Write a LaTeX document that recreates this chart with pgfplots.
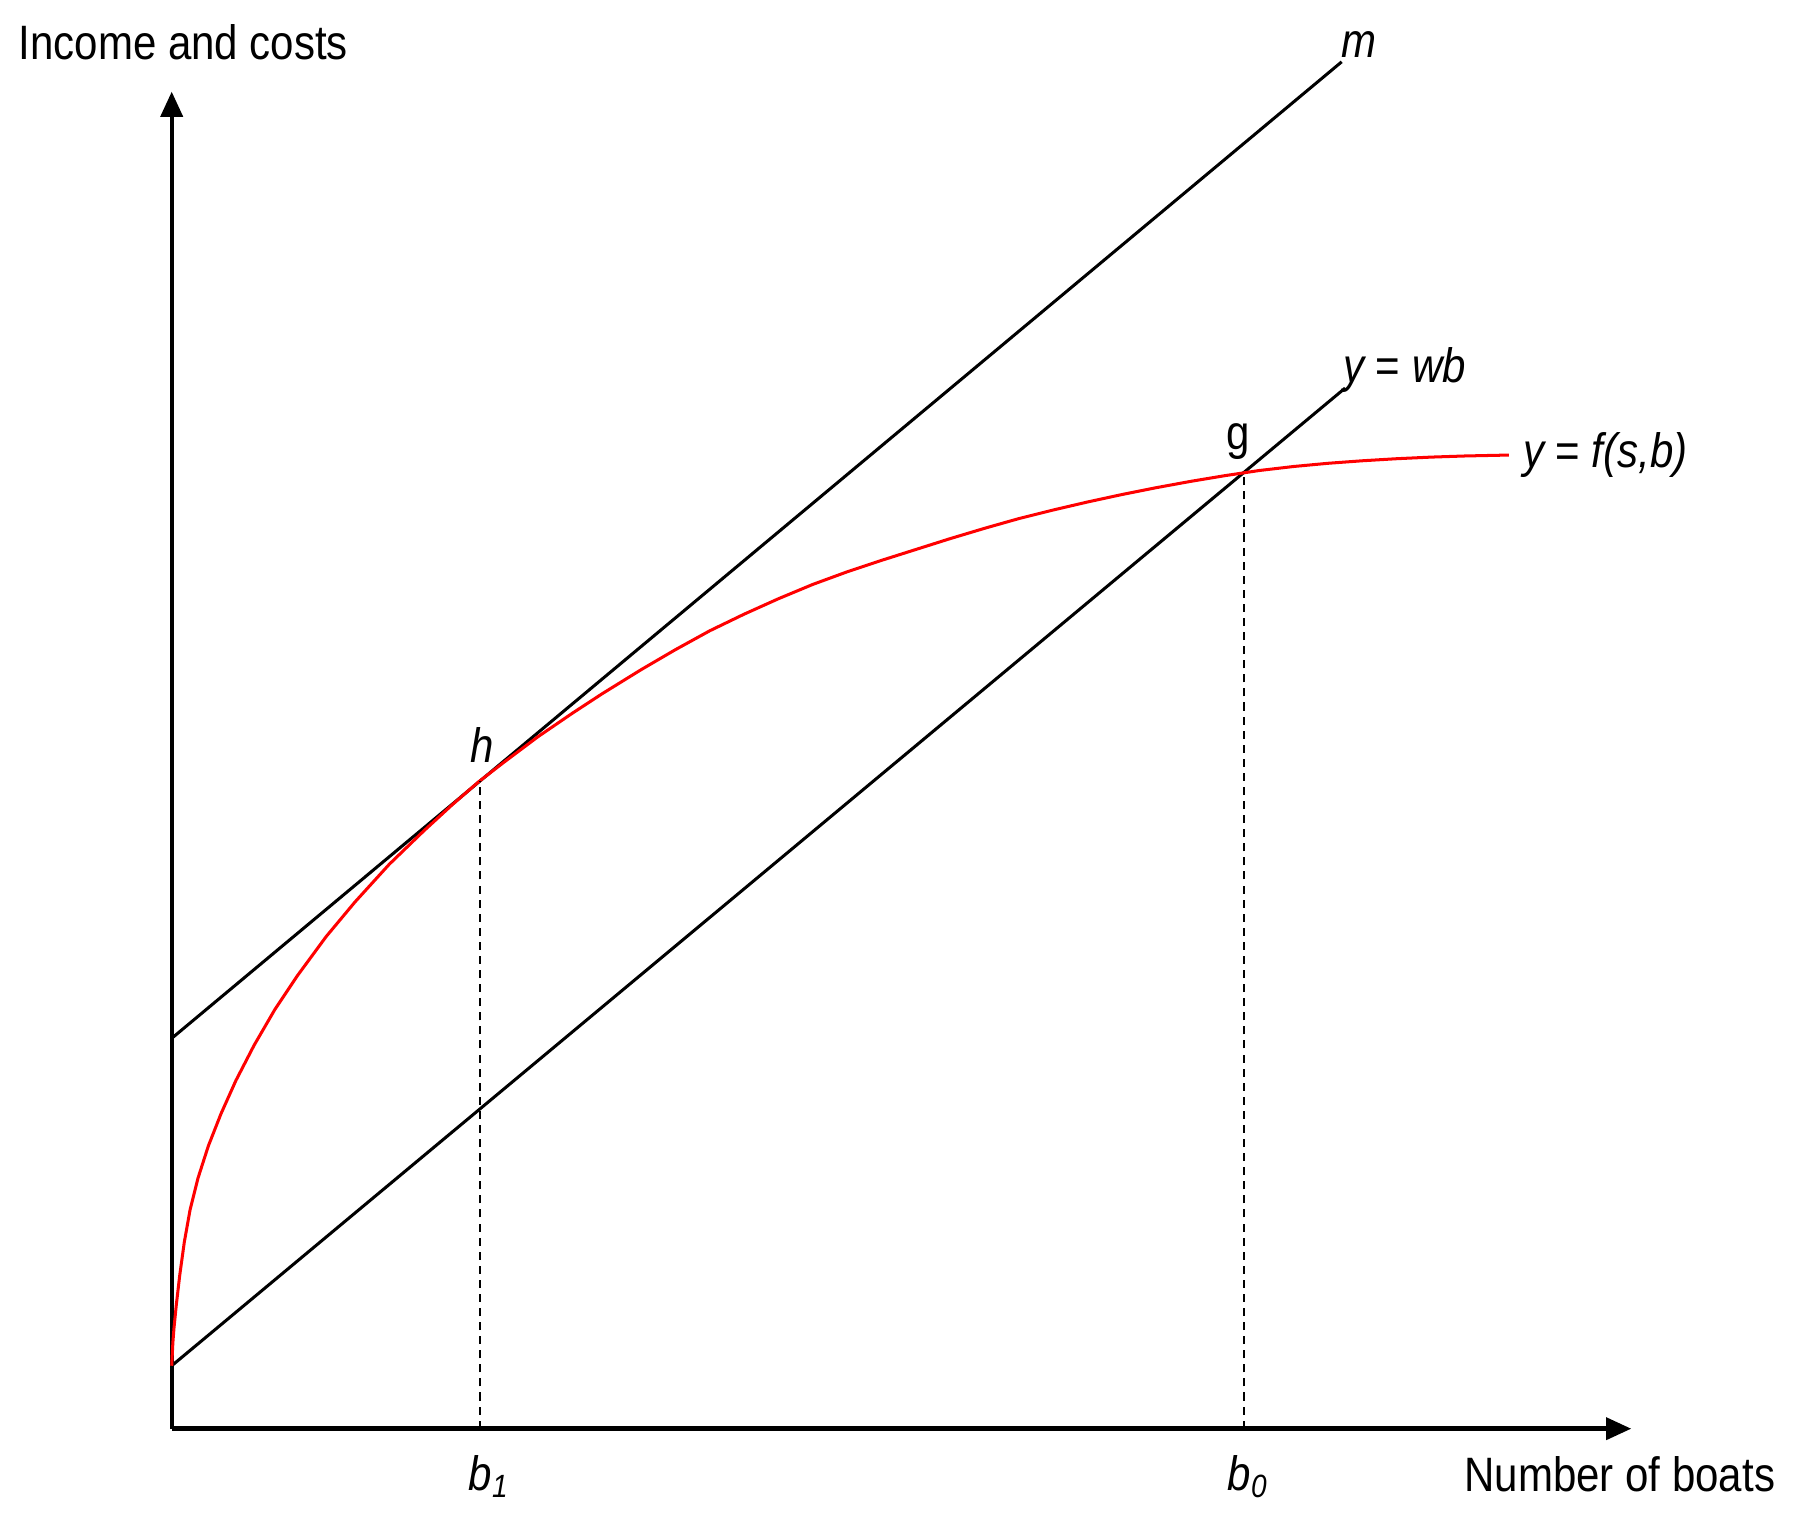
\documentclass[border=0pt]{standalone}
\usepackage{pgfplots}
\pgfplotsset{compat=1.18}
\usepackage{graphicx}
\usepackage{fontspec}
\setmainfont{Liberation Sans}
\usetikzlibrary{arrows.meta}

% text in the reference is a little narrower than Arial
\newcommand{\lbl}[1]{\scalebox{0.87}[1]{\fontsize{12}{14}\selectfont #1}}

\begin{document}
\begin{tikzpicture}
\begin{axis}[
    width=15.68cm, height=13.35cm, scale only axis,
    xmin=-150, xmax=1418, ymin=-87, ymax=1248,
    hide axis, clip=false,
    every node/.style={inner sep=0pt},
]
% keep the whole axis area as the page
\path[draw=none] (rel axis cs:0,0) rectangle (rel axis cs:1,1);

% axes with arrow heads
\addplot[black, line width=1.1pt, -{Triangle[length=0.22cm,width=0.19cm]}]
    coordinates {(0,0) (1275,0)};
\addplot[black, line width=1.1pt, -{Triangle[length=0.22cm,width=0.19cm]}]
    coordinates {(0,0) (0,1168)};

% m and y = wb
\addplot[black, line width=0.75pt] coordinates {(0,341) (1022,1194)};
\addplot[black, line width=0.75pt] coordinates {(0,55) (1025,909)};

% y = f(s,b)
\addplot[red, line width=0.75pt, line join=round] coordinates {
    (0,55) (1,75) (2,88) (4,108) (7,134) (11,163) (16,191) (23,219)
    (32,247) (43,275) (56,304) (72,335) (90,366) (110,396) (135,430)
    (160,460) (190,493) (220,522) (245,545) (268,565) (290,582)
    (320,604.5) (350,625) (376,642) (410,663) (440,680.5) (470,697)
    (500,711.5) (530,725) (560,737.5) (590,748.5) (620,758.5) (650,768)
    (680,777.5) (710,786.5) (740,795) (770,802.5) (800,809.5) (830,816)
    (860,822) (890,827.5) (920,832.5) (950,837) (980,840.5) (1010,843.3)
    (1040,845.5) (1070,847.3) (1100,848.7) (1130,849.7) (1168,850.5)
};

% drop lines
\addplot[black, line width=0.5pt, dash pattern=on 2pt off 1.5pt] coordinates {(269,0) (269,566)};
\addplot[black, line width=0.5pt, dash pattern=on 2pt off 1.5pt] coordinates {(937,0) (937,835)};

% labels
\node[anchor=base west] at (axis cs:-146,1196) {\lbl{Income and costs}};
\node[anchor=base east] at (axis cs:1413,-55) {\lbl{Number of boats}};
\node[anchor=base west] at (axis cs:1009,1198) {\lbl{\itshape m}};
\node[anchor=base west] at (axis cs:1011,914) {\lbl{\itshape y {\upshape =} wb}};
\node[anchor=base west] at (axis cs:1168,840) {\lbl{\itshape y {\upshape =} f(s,b)}};
\node[anchor=base west] at (axis cs:249,582) {\lbl{\itshape h}};
\node[anchor=base west] at (axis cs:909,855) {\lbl{g}};
\node[anchor=base west] at (axis cs:247,-54) {\lbl{\itshape b\textsubscript{1}}};
\node[anchor=base west] at (axis cs:910,-54) {\lbl{\itshape b\textsubscript{0}}};
\end{axis}
\end{tikzpicture}
\end{document}
